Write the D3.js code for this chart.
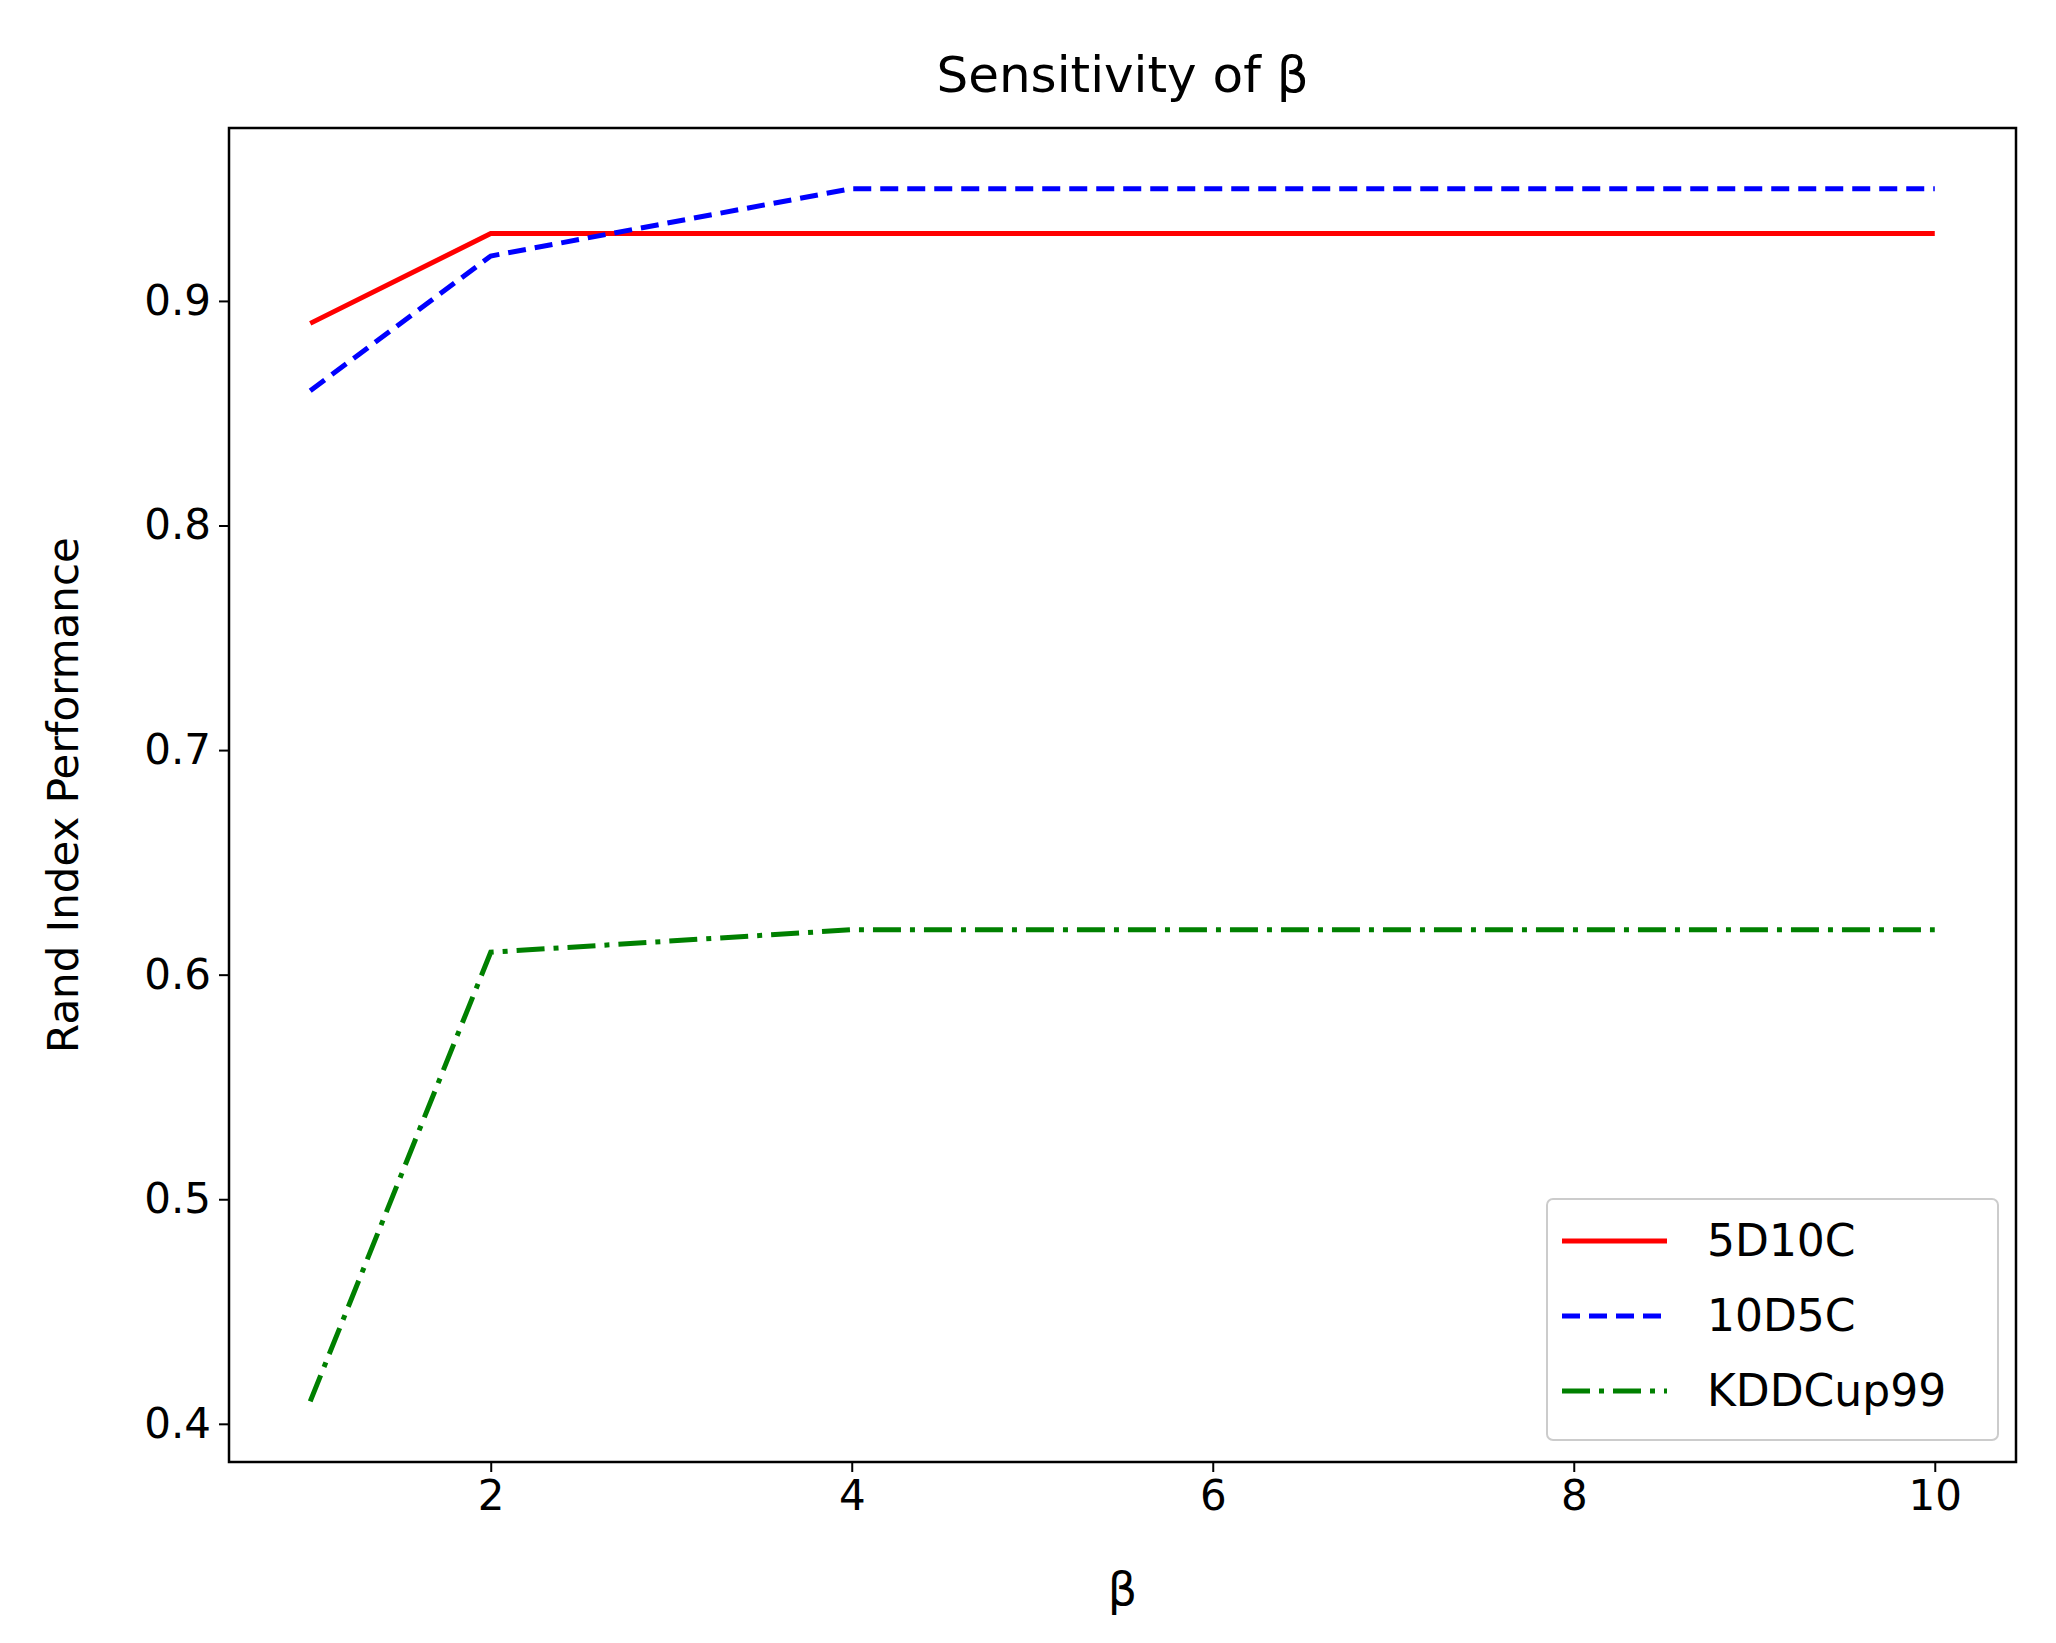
<!DOCTYPE html>
<html><head><meta charset="utf-8">
<script src="https://cdn.jsdelivr.net/npm/d3@7"></script>
<style>body{margin:0;background:#fff;font-family:"DejaVu Sans",sans-serif}</style>
</head><body><svg id="c" width="2056" height="1643"></svg>
<script>
const betas = [1, 2, 4, 6, 8, 10];
const serie5D10C = [0.89, 0.93, 0.93, 0.93, 0.93, 0.93];
const serie10D5C = [0.86, 0.92, 0.95, 0.95, 0.95, 0.95];
const serieKDD   = [0.41, 0.61, 0.62, 0.62, 0.62, 0.62];
const nombres = ["5D10C", "10D5C", "KDDCup99"];
const xTicks = [2, 4, 6, 8, 10];
const yTicks = [0.4, 0.5, 0.6, 0.7, 0.8, 0.9];

const m = {l: 229, r: 2016, t: 128, b: 1462};
const svg = d3.select('#c');
const x = d3.scaleLinear().domain([0.55, 10.45]).range([m.l, m.r]);
const y = d3.scaleLinear().domain([0.383, 0.977]).range([m.b, m.t]);

const estilos = [
  {color: '#ff0000', dash: null},
  {color: '#0000ff', dash: '18,9'},
  {color: '#008000', dash: '28,9,5,9'}
];
const series = [serie5D10C, serie10D5C, serieKDD];
const linea = d3.line().x((d, i) => x(betas[i])).y(d => y(d));

series.forEach((s, k) => {
  svg.append('path').attr('d', linea(s)).attr('fill', 'none')
    .attr('stroke', estilos[k].color).attr('stroke-width', 5)
    .attr('stroke-dasharray', estilos[k].dash);
});

// ejes
const ax = svg.append('g').attr('transform', `translate(0,${m.b})`)
  .call(d3.axisBottom(x).tickValues(xTicks).tickSize(10).tickPadding(8));
const ay = svg.append('g').attr('transform', `translate(${m.l},0)`)
  .call(d3.axisLeft(y).tickValues(yTicks).tickFormat(d3.format('.1f')).tickSize(10).tickPadding(8));
[ax, ay].forEach(g => {
  g.select('.domain').remove();
  g.selectAll('line').attr('stroke', '#000').attr('stroke-width', 2);
  g.selectAll('text').attr('font-size', 42).attr('font-family', 'DejaVu Sans').attr('fill', '#000');
});
svg.append('rect').attr('x', m.l).attr('y', m.t).attr('width', m.r - m.l).attr('height', m.b - m.t)
  .attr('fill', 'none').attr('stroke', '#000').attr('stroke-width', 2.5);

svg.append('text').attr('x', (m.l + m.r) / 2).attr('y', 92).attr('text-anchor', 'middle')
  .attr('font-size', 50).text('Sensitivity of β');
svg.append('text').attr('x', (m.l + m.r) / 2).attr('y', 1605).attr('text-anchor', 'middle')
  .attr('font-size', 46).text('β');
svg.append('text').attr('transform', `translate(78,${(m.t + m.b) / 2}) rotate(-90)`)
  .attr('text-anchor', 'middle').attr('font-size', 42).text('Rand Index Performance');

// leyenda
const lg = svg.append('g').attr('transform', 'translate(1547,1199)');
lg.append('rect').attr('width', 451).attr('height', 241).attr('rx', 6)
  .attr('fill', '#fff').attr('stroke', '#ccc').attr('stroke-width', 2);
nombres.forEach((n, k) => {
  const yy = 42 + k * 75;
  lg.append('line').attr('x1', 15).attr('x2', 120).attr('y1', yy).attr('y2', yy)
    .attr('stroke', estilos[k].color).attr('stroke-width', 5).attr('stroke-dasharray', estilos[k].dash);
  lg.append('text').attr('x', 160).attr('y', yy + 15).attr('font-size', 44).text(n);
});
</script></body></html>
